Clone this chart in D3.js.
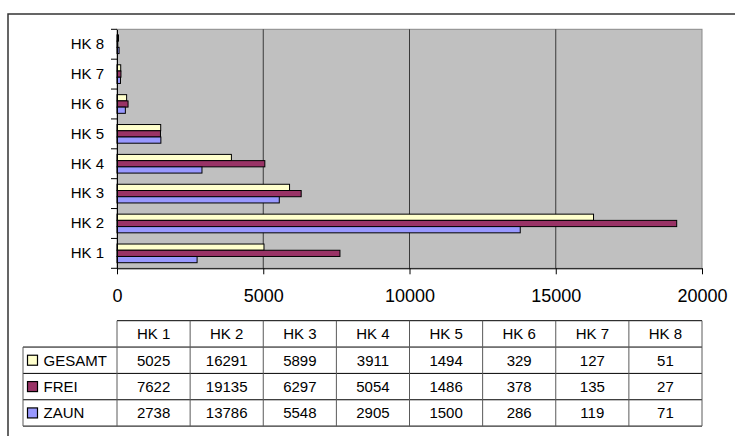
<!DOCTYPE html>
<html>
<head>
<meta charset="utf-8">
<script src="https://cdn.jsdelivr.net/npm/d3@7/dist/d3.min.js"></script>
<style>
  html, body { margin: 0; padding: 0; background: #fff; }
  svg { display: block; font-family: Arial, "Liberation Sans", sans-serif; }
</style>
</head>
<body>
<svg id="chart" width="735" height="436"></svg>
<script>
// Categories and series values
const categories = ["HK 1", "HK 2", "HK 3", "HK 4", "HK 5", "HK 6", "HK 7", "HK 8"];
const seriesNames = ["GESAMT", "FREI", "ZAUN"];
const gesamt = [5025, 16291, 5899, 3911, 1494, 329, 127, 51];
const frei   = [7622, 19135, 6297, 5054, 1486, 378, 135, 27];
const zaun   = [2738, 13786, 5548, 2905, 1500, 286, 119, 71];
const xTicks = [0, 5000, 10000, 15000, 20000];
const seriesColors = ["#FFFFCC", "#993366", "#9999FF"];

const seriesValues = [gesamt, frei, zaun];

const svg = d3.select("#chart");

// outer chart frame
svg.append("rect")
  .attr("x", 8).attr("y", 14)
  .attr("width", 800).attr("height", 500)
  .attr("fill", "none").attr("stroke", "#333").attr("stroke-width", 1.5);

const plot = { left: 117, right: 702, top: 29.3, bottom: 268.3 };

const x = d3.scaleLinear().domain([0, 20000]).range([plot.left, plot.right]);
const y = d3.scaleBand()
  .domain(categories.slice().reverse())
  .range([plot.top, plot.bottom])
  .padding(0);
const bw = y.bandwidth();
const yi = d3.scaleBand().domain(seriesNames).range([5.6, bw - 5.6]).padding(0);

// plot background
svg.append("rect")
  .attr("x", plot.left).attr("y", plot.top)
  .attr("width", plot.right - plot.left).attr("height", plot.bottom - plot.top)
  .attr("fill", "#C0C0C0").attr("stroke", "#8a8a8a").attr("stroke-width", 1);

// vertical gridlines
svg.append("g")
  .selectAll("line")
  .data(xTicks.filter(t => t > 0 && t < 20000))
  .join("line")
  .attr("x1", d => x(d)).attr("x2", d => x(d))
  .attr("y1", plot.top).attr("y2", plot.bottom)
  .attr("stroke", "#3a3a3a").attr("stroke-width", 1);

// bars
const rows = categories.map((c, i) => ({ cat: c, vals: seriesNames.map((s, j) => ({ s, v: seriesValues[j][i], color: seriesColors[j] })) }));
const groups = svg.append("g").selectAll("g")
  .data(rows).join("g")
  .attr("transform", d => `translate(0,${y(d.cat)})`);
groups.selectAll("rect")
  .data(d => d.vals).join("rect")
  .attr("x", x(0))
  .attr("y", d => yi(d.s))
  .attr("width", d => x(d.v) - x(0))
  .attr("height", yi.bandwidth())
  .attr("fill", d => d.color)
  .attr("stroke", "#000").attr("stroke-width", 1);

// x axis
const xAxis = svg.append("g")
  .attr("transform", `translate(0,${plot.bottom})`)
  .call(d3.axisBottom(x).tickValues(xTicks).tickFormat(d3.format("d")).tickSize(6).tickPadding(15).tickSizeOuter(0));
xAxis.select(".domain").attr("stroke", "#000");
xAxis.selectAll(".tick line").attr("stroke", "#000");
xAxis.selectAll("text").attr("font-size", 18).attr("fill", "#000")
  .attr("font-family", 'Arial, "Liberation Sans", sans-serif');

// y axis labels
const yAxis = svg.append("g")
  .attr("transform", `translate(${plot.left},0)`)
  .call(d3.axisLeft(y).tickSize(0).tickPadding(13));
yAxis.select(".domain").attr("stroke", "#000");
yAxis.selectAll("text").attr("font-size", 15).attr("fill", "#000")
  .attr("font-family", 'Arial, "Liberation Sans", sans-serif');

// y axis ticks on category boundaries
const bounds = y.domain().map(c => y(c)).concat([plot.bottom]);
svg.append("g").selectAll("line")
  .data(bounds).join("line")
  .attr("x1", plot.left - 6).attr("x2", plot.left)
  .attr("y1", d => d).attr("y2", d => d)
  .attr("stroke", "#000");

// data table
const table = { left: 23, colLeft: 117, right: 702, top: 320.7, rowH: 26.35 };
const colW = (table.right - table.colLeft) / categories.length;
const tg = svg.append("g");

// horizontal rules
[0, 1, 2, 3, 4].forEach(r => {
  tg.append("line")
    .attr("x1", r === 0 ? table.colLeft : table.left).attr("x2", table.right)
    .attr("y1", table.top + r * table.rowH).attr("y2", table.top + r * table.rowH)
    .attr("stroke", "#000");
});
// vertical rules
d3.range(categories.length + 1).forEach(k => {
  tg.append("line")
    .attr("x1", table.colLeft + k * colW).attr("x2", table.colLeft + k * colW)
    .attr("y1", table.top).attr("y2", table.top + 4 * table.rowH)
    .attr("stroke", "#5a5a5a");
});
tg.append("line")
  .attr("x1", table.left).attr("x2", table.left)
  .attr("y1", table.top + table.rowH).attr("y2", table.top + 4 * table.rowH)
  .attr("stroke", "#5a5a5a");

// header cells
tg.selectAll("text.head")
  .data(categories).join("text")
  .attr("class", "head")
  .attr("x", (d, i) => table.colLeft + (i + 0.5) * colW)
  .attr("y", table.top + table.rowH / 2 + 5.5)
  .attr("text-anchor", "middle").attr("font-size", 15)
  .text(d => d);

// series rows
seriesNames.forEach((s, j) => {
  const rowTop = table.top + (j + 1) * table.rowH;
  const base = rowTop + table.rowH / 2 + 5.5;
  tg.append("rect")
    .attr("x", 27.5).attr("y", base - 10.5)
    .attr("width", 10).attr("height", 10)
    .attr("fill", seriesColors[j]).attr("stroke", "#000").attr("stroke-width", 1.2);
  tg.append("text")
    .attr("x", 43.5).attr("y", base)
    .attr("font-size", 15)
    .text(s);
  tg.selectAll(null)
    .data(seriesValues[j]).join("text")
    .attr("x", (d, i) => table.colLeft + (i + 0.5) * colW)
    .attr("y", base)
    .attr("text-anchor", "middle").attr("font-size", 15)
    .text(d => d);
});
</script>
</body>
</html>
